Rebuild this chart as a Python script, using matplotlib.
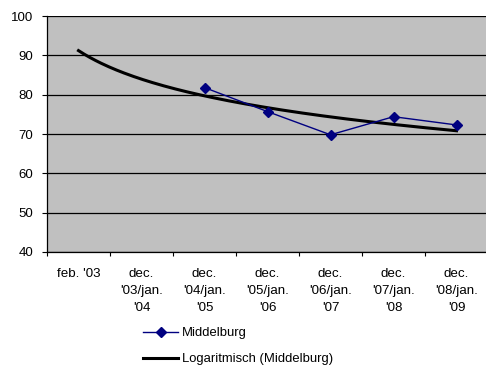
import numpy as np
import matplotlib
import matplotlib.pyplot as plt

matplotlib.use("Agg")
plt.rcParams["font.family"] = ["Liberation Sans", "DejaVu Sans"]

categories = [
    "feb. '03",
    "dec.\n'03/jan.\n'04",
    "dec.\n'04/jan.\n'05",
    "dec.\n'05/jan.\n'06",
    "dec.\n'06/jan.\n'07",
    "dec.\n'07/jan.\n'08",
    "dec.\n'08/jan.\n'09",
]
# category numbers (1-based, like Excel) where Middelburg has a value
middelburg_x = [3, 4, 5, 6, 7]
middelburg = [81.8, 75.7, 69.8, 74.4, 72.3]


def main():
    fig = plt.figure(figsize=(4.86, 3.67), dpi=100)
    ax = fig.add_axes([47 / 486, 1 - 252 / 367, 441 / 486, 236 / 367])
    ax.set_facecolor("#c0c0c0")

    # logarithmic trendline, as Excel fits it: y = a*ln(x) + b
    a, b = np.polyfit(np.log(middelburg_x), middelburg, 1)
    tx = np.linspace(1, len(categories), 200)
    ax.plot(tx, a * np.log(tx) + b, color="black", lw=2.2,
            label="Logaritmisch (Middelburg)", zorder=3)

    ax.plot(middelburg_x, middelburg, color="#000080", lw=1, marker="D", ms=5.5,
            label="Middelburg", zorder=4)

    ax.set_xlim(0.5, len(categories) + 0.5)
    ax.set_ylim(40, 100)
    ax.set_yticks(range(40, 101, 10))
    ax.yaxis.grid(True, color="black", lw=0.9)
    ax.set_axisbelow(True)

    ax.set_xticks(np.arange(0.5, len(categories) + 1, 1))
    ax.set_xticklabels([])
    ax.set_xticks(range(1, len(categories) + 1), minor=True)
    ax.set_xticklabels(categories, minor=True, fontsize=9.6, linespacing=1.55,
                       va="top")
    ax.tick_params(axis="x", which="minor", length=0, pad=11.5)
    ax.tick_params(axis="x", which="major", length=3, width=0.8)
    ax.tick_params(axis="y", length=3.6, width=0.8, labelsize=9.5, pad=6.5)

    for side in ("top", "right"):
        ax.spines[side].set_visible(False)
    for side in ("left", "bottom"):
        ax.spines[side].set_linewidth(0.9)

    handles, labels = ax.get_legend_handles_labels()
    fig.legend(handles[::-1], labels[::-1], loc="upper left",
               bbox_to_anchor=(138 / 486, 1 - 322 / 367), frameon=False,
               fontsize=9.4, handlelength=2.7, handletextpad=0.25,
               labelspacing=1.05, borderaxespad=0)

    fig.savefig("out.png", dpi=100)


if __name__ == "__main__":
    main()
